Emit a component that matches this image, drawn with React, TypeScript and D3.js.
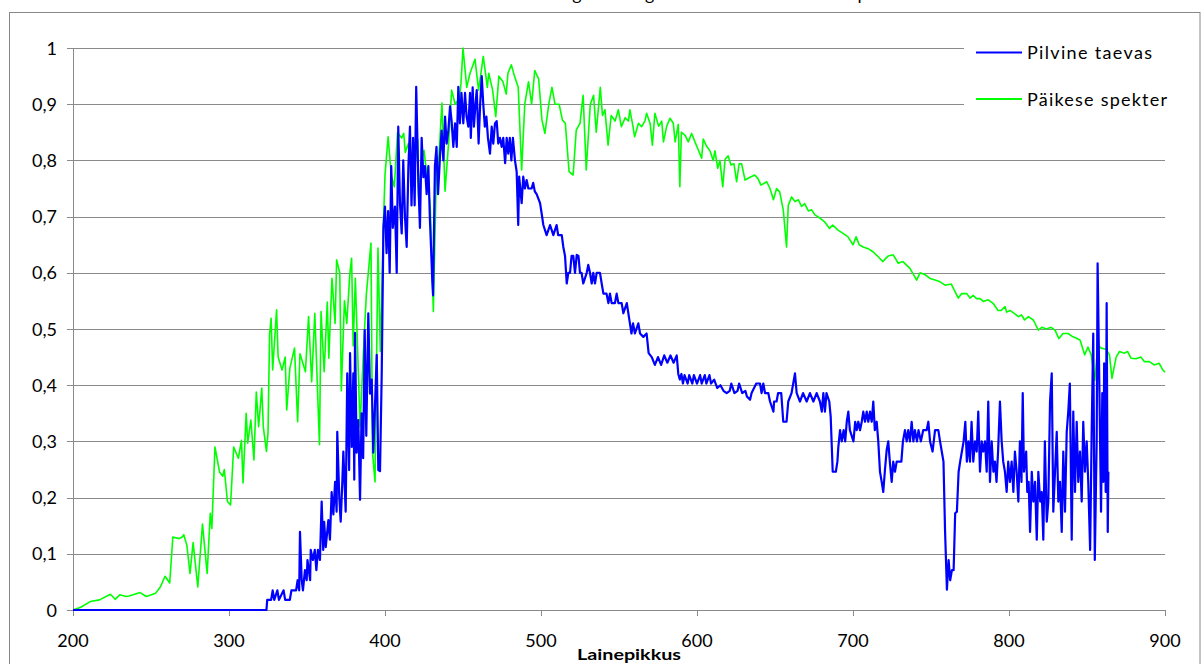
import React, { useLayoutEffect, useRef } from "react";
import * as d3 from "d3";

const W = 1202;
const H = 664;

const titleText = "Pilvise taeva valguse ilmaga võrreldes meie Päikese spekter";
const xAxisTitle = "Lainepikkus";
const seriesNames = ["Pilvine taevas", "Päikese spekter"];
const seriesColors = ["#0000ff", "#00ff00"];
const xTicks = [200, 300, 400, 500, 600, 700, 800, 900];
const yTicks = [0, 0.1, 0.2, 0.3, 0.4, 0.5, 0.6, 0.7, 0.8, 0.9, 1];
const yTickLabels = ["0", "0,1", "0,2", "0,3", "0,4", "0,5", "0,6", "0,7", "0,8", "0,9", "1"];

// Päikese spekter: [wavelength nm, relative value]
const sunSpectrum: [number, number][] = [
  [200, 0], [205, 0.005], [211, 0.015], [217, 0.018], [224, 0.028], [227, 0.019], [230, 0.027],
  [234, 0.024], [236, 0.025], [243, 0.031], [247, 0.024], [253, 0.03], [256, 0.041], [259, 0.06],
  [262, 0.048], [264, 0.13], [268, 0.127], [270, 0.13], [271, 0.134], [273, 0.115], [275, 0.065],
  [277, 0.12], [280, 0.041], [283, 0.153], [286, 0.065], [288, 0.172], [289, 0.145], [291, 0.29],
  [294, 0.245], [296, 0.238], [297, 0.25], [299, 0.193], [301, 0.187], [303, 0.29], [306, 0.27],
  [308, 0.302], [309, 0.226], [311, 0.35], [312, 0.297], [314, 0.338], [316, 0.267], [317.5, 0.388],
  [319, 0.326], [321, 0.395], [322, 0.326], [324, 0.282], [325, 0.315], [326, 0.489], [327, 0.519],
  [328, 0.427], [330.5, 0.534], [331.5, 0.45], [334, 0.427], [336, 0.45], [337, 0.356], [339, 0.43],
  [342, 0.466], [344, 0.335], [345.5, 0.456], [349, 0.424], [351, 0.522], [353, 0.406], [355, 0.528],
  [358, 0.294], [359, 0.531], [361, 0.424], [363, 0.548], [364, 0.448], [366, 0.59], [368, 0.51],
  [369, 0.623], [371, 0.6], [372, 0.39], [374, 0.55], [375.5, 0.51], [377.5, 0.6], [378.6, 0.626],
  [379.6, 0.47], [381, 0.59], [384, 0.326], [386, 0.45], [388, 0.56], [391, 0.653], [392, 0.28],
  [393.6, 0.228], [395.5, 0.644], [397, 0.46], [399, 0.689], [400, 0.774], [402, 0.842], [404, 0.774],
  [406, 0.753], [408, 0.849], [410.7, 0.84], [412, 0.848], [413, 0.814], [415, 0.83], [418, 0.765],
  [421, 0.836], [421.5, 0.735], [423.5, 0.8], [425, 0.818], [427, 0.77], [429, 0.718], [431, 0.531],
  [433, 0.79], [434, 0.78], [436.5, 0.902], [438.5, 0.745], [441, 0.84], [442.7, 0.925], [445, 0.9],
  [447.6, 0.91], [448.7, 0.937], [450, 1.0], [452.4, 0.93], [454.5, 0.955], [457.7, 0.98], [460, 0.925],
  [463, 0.985], [465.6, 0.93], [466.5, 0.955], [469, 0.925], [471, 0.878], [473, 0.95], [475.6, 0.94],
  [477.7, 0.918], [478.8, 0.955], [481, 0.97], [483, 0.95], [485.4, 0.93], [487.6, 0.783], [489.6, 0.9],
  [492, 0.94], [494, 0.9], [496, 0.96], [498.5, 0.945], [500.6, 0.872], [502.5, 0.848], [505, 0.9],
  [507, 0.93], [509, 0.9], [511.6, 0.9], [513.7, 0.872], [515.6, 0.866], [518, 0.78], [520.6, 0.774],
  [522.6, 0.854], [525, 0.866], [527, 0.916], [529, 0.783], [531.6, 0.9], [533.7, 0.916], [535.4, 0.85],
  [538, 0.93], [539.4, 0.88], [541, 0.89], [543, 0.827], [545, 0.88], [547.5, 0.87], [549.6, 0.89],
  [551.5, 0.86], [554, 0.876], [556, 0.87], [557, 0.89], [559, 0.86], [560, 0.842], [562.5, 0.866],
  [564.5, 0.86], [566.6, 0.87], [567.7, 0.884], [570, 0.865], [571.4, 0.827], [573, 0.884],
  [575.4, 0.861], [577.4, 0.87], [578.5, 0.833], [580.6, 0.861], [582.7, 0.875], [584.8, 0.866],
  [586, 0.833], [588, 0.864], [589, 0.753], [590, 0.85], [592.3, 0.845], [594.4, 0.833], [596.6, 0.848],
  [598.7, 0.833], [600.8, 0.819], [603, 0.804], [604, 0.838], [606, 0.826], [608.3, 0.817], [610.4, 0.8],
  [611.5, 0.817], [613.3, 0.786], [614.7, 0.8], [616.5, 0.753], [618, 0.802], [620, 0.808],
  [621.8, 0.792], [623.7, 0.794], [625.4, 0.762], [627, 0.794], [628.6, 0.794], [630.8, 0.765],
  [634, 0.77], [637, 0.774], [639, 0.768], [641, 0.756], [644.7, 0.762], [646.8, 0.75], [649, 0.73],
  [651, 0.75], [653, 0.744], [655.3, 0.712], [657.4, 0.646], [658.5, 0.72], [660.6, 0.735],
  [662.8, 0.727], [665, 0.73], [667, 0.718], [669, 0.723], [671.4, 0.71], [673.5, 0.712], [675.6, 0.703],
  [679, 0.697], [682, 0.69], [685, 0.679], [687, 0.685], [690.4, 0.676], [693.6, 0.67], [696.8, 0.664],
  [700, 0.65], [702, 0.664], [704, 0.65], [706.5, 0.646], [709.7, 0.643], [713, 0.637], [716, 0.629],
  [719, 0.62], [722.6, 0.63], [725.8, 0.632], [729, 0.617], [732, 0.62], [736.5, 0.608], [740.8, 0.587],
  [743, 0.6], [746, 0.597], [749.4, 0.59], [752.6, 0.587], [755.8, 0.584], [759, 0.578], [763, 0.58],
  [767.5, 0.555], [769.7, 0.563], [773, 0.563], [775, 0.555], [777, 0.56], [779.2, 0.554],
  [781.4, 0.554], [783.5, 0.549], [786.7, 0.552], [790, 0.545], [793, 0.533], [795, 0.533],
  [797.4, 0.54], [798.5, 0.53], [800.6, 0.533], [803.8, 0.527], [806, 0.522], [808, 0.525], [810, 0.516],
  [812.4, 0.522], [815.6, 0.516], [818.8, 0.498], [821, 0.503], [824, 0.5], [827, 0.503], [829.5, 0.498],
  [832, 0.483], [834.6, 0.492], [837.8, 0.492], [841, 0.486], [843, 0.484], [845.6, 0.48],
  [848.5, 0.454], [850.6, 0.468], [852.7, 0.454], [855, 0.409], [857, 0.472], [859, 0.466],
  [862.3, 0.464], [864.4, 0.454], [866, 0.412], [868.7, 0.45], [870.8, 0.46], [874, 0.457], [876, 0.46],
  [878.2, 0.448], [881.4, 0.447], [884.6, 0.45], [886.7, 0.442], [890, 0.442], [893, 0.436],
  [896.3, 0.439], [898.4, 0.428], [900, 0.423],
];

// Pilvine taevas: [wavelength nm, relative value]
const cloudySky: [number, number][] = [
  [200, 0], [324, 0], [324.5, 0.018], [327, 0.018], [328, 0.035], [329, 0.018], [331, 0.035],
  [332, 0.018], [335, 0.035], [336, 0.018], [339, 0.018], [340, 0.035], [343, 0.035], [344, 0.053],
  [345, 0.035], [345.5, 0.139], [346.6, 0.053], [347.4, 0.035], [348.7, 0.071], [349.8, 0.053],
  [350.3, 0.089], [352, 0.053], [352.4, 0.107], [353.8, 0.089], [355, 0.107], [356, 0.071],
  [357, 0.107], [358.3, 0.089], [359.4, 0.193], [360.4, 0.107], [361, 0.157], [362, 0.112],
  [363.7, 0.16], [364.7, 0.125], [365.8, 0.21], [366.9, 0.17], [368, 0.228], [369, 0.175],
  [369.4, 0.317], [370.7, 0.2], [371.6, 0.157], [372.6, 0.225], [373.3, 0.282], [374.8, 0.175],
  [375.8, 0.421], [377, 0.249], [377.6, 0.457], [378.7, 0.29], [379.7, 0.421], [380.3, 0.232],
  [380.8, 0.493], [381.8, 0.28], [382.9, 0.338], [384, 0.196], [385, 0.35], [386, 0.27], [387, 0.498],
  [388, 0.31], [389.3, 0.528], [390.4, 0.385], [391.5, 0.41], [392.5, 0.28], [393.6, 0.365],
  [394.7, 0.454], [395.7, 0.249], [396.8, 0.247], [397.9, 0.421], [399, 0.682], [400, 0.718],
  [401, 0.635], [402, 0.71], [403, 0.6], [404, 0.79], [405, 0.68], [406.4, 0.718], [407.5, 0.6],
  [408.5, 0.86], [409.6, 0.724], [410.7, 0.67], [411.7, 0.8], [412.8, 0.7], [413.9, 0.646], [415, 0.79],
  [416, 0.86], [417, 0.72], [418, 0.84], [419, 0.72], [420, 0.931], [421.4, 0.76], [422.4, 0.68],
  [423.5, 0.84], [424.6, 0.77], [425.6, 0.79], [426.7, 0.74], [427.8, 0.79], [428.8, 0.694],
  [429.5, 0.646], [430.3, 0.587], [430.8, 0.56], [432, 0.79], [433, 0.824], [434, 0.74], [435.3, 0.81],
  [436.3, 0.853], [437.4, 0.8], [438.5, 0.878], [439.5, 0.83], [440.6, 0.853], [441.7, 0.896],
  [442.7, 0.87], [443.8, 0.824], [444.9, 0.866], [446, 0.824], [447, 0.931], [448, 0.866], [449, 0.92],
  [450.2, 0.866], [451.3, 0.92], [452.3, 0.878], [453.4, 0.86], [454.5, 0.92], [455, 0.84],
  [456.2, 0.93], [457, 0.86], [458, 0.9], [458.8, 0.925], [460, 0.83], [461, 0.9], [462, 0.95],
  [463, 0.9], [464, 0.86], [465, 0.878], [466, 0.84], [467.3, 0.812], [468.4, 0.86], [469.4, 0.83],
  [470.5, 0.866], [471.6, 0.87], [472.6, 0.83], [473.7, 0.84], [474.8, 0.824], [475.8, 0.84],
  [477, 0.795], [478, 0.84], [479, 0.812], [480, 0.84], [481, 0.8], [482, 0.84], [483.3, 0.8],
  [484.4, 0.78], [485.4, 0.685], [486, 0.771], [487.6, 0.724], [488.6, 0.771], [489.7, 0.75],
  [490.8, 0.765], [491.9, 0.75], [494, 0.75], [495, 0.76], [496, 0.745], [497.2, 0.74], [499.4, 0.724],
  [500.4, 0.706], [501.5, 0.685], [503.6, 0.667], [505.8, 0.685], [507.9, 0.667], [510, 0.685],
  [511, 0.667], [513.3, 0.667], [514.3, 0.646], [515.4, 0.63], [516.5, 0.581], [517.5, 0.6],
  [518.6, 0.6], [519.6, 0.63], [520.7, 0.63], [521.8, 0.6], [522.9, 0.632], [524, 0.63], [525, 0.6],
  [526, 0.6], [527.1, 0.581], [529.3, 0.6], [530.3, 0.614], [531.4, 0.6], [532.5, 0.581], [533.5, 0.6],
  [534.6, 0.581], [535.7, 0.6], [537.8, 0.6], [538.9, 0.581], [540, 0.563], [542, 0.563],
  [543.2, 0.546], [544.2, 0.563], [545.3, 0.546], [547.4, 0.546], [548.5, 0.563], [549.6, 0.546],
  [551.7, 0.546], [552.8, 0.528], [555, 0.546], [556, 0.528], [557, 0.51], [558, 0.492], [559, 0.51],
  [560.2, 0.492], [562.4, 0.51], [563.5, 0.492], [565.6, 0.486], [567.7, 0.492], [569, 0.457],
  [571, 0.45], [573, 0.436], [575, 0.45], [577, 0.436], [579, 0.453], [581, 0.44], [583, 0.453],
  [585, 0.44], [587, 0.453], [588, 0.42], [589, 0.41], [590, 0.42], [591, 0.403], [592, 0.418],
  [594, 0.403], [595, 0.418], [597, 0.403], [598, 0.418], [600, 0.403], [602, 0.418], [603, 0.403],
  [605, 0.418], [606, 0.403], [608, 0.418], [609, 0.403], [611, 0.41], [613, 0.395], [615, 0.4],
  [617, 0.39], [619, 0.386], [621, 0.39], [622, 0.403], [624, 0.386], [626, 0.39], [627, 0.403],
  [629, 0.386], [631, 0.39], [632, 0.38], [634, 0.374], [635, 0.386], [638, 0.403], [640.4, 0.403],
  [641.4, 0.386], [642.5, 0.403], [643.6, 0.386], [645.7, 0.386], [646.8, 0.371], [649, 0.353],
  [649.4, 0.371], [651, 0.371], [652, 0.386], [654, 0.386], [655.3, 0.335], [657.4, 0.335],
  [658.5, 0.371], [660.6, 0.386], [662.8, 0.421], [663.9, 0.386], [666, 0.371], [668, 0.386],
  [670.3, 0.371], [672.4, 0.386], [674.6, 0.371], [676.7, 0.386], [678.8, 0.371], [680, 0.353],
  [681, 0.386], [682, 0.353], [683, 0.386], [684.8, 0.371], [685.7, 0.344], [687, 0.246], [689, 0.246],
  [690, 0.264], [690.6, 0.29], [691.7, 0.32], [692.8, 0.3], [694, 0.32], [695, 0.3], [696, 0.335],
  [697, 0.353], [698, 0.32], [700.3, 0.3], [701.4, 0.335], [702.4, 0.32], [703.4, 0.335], [704.5, 0.32],
  [705.6, 0.335], [706.6, 0.353], [707.7, 0.335], [708.8, 0.353], [709.8, 0.335], [710.9, 0.353],
  [712, 0.335], [713, 0.371], [714, 0.32], [715.2, 0.335], [716.2, 0.3], [717.3, 0.246], [718.4, 0.228],
  [719.4, 0.21], [720.5, 0.25], [721.6, 0.285], [722.6, 0.3], [723.7, 0.261], [724.8, 0.228],
  [725.8, 0.264], [726.9, 0.246], [728, 0.264], [731, 0.264], [732, 0.3], [733.3, 0.32], [734.4, 0.3],
  [735.4, 0.32], [736.5, 0.3], [737.6, 0.335], [738.7, 0.3], [739.7, 0.32], [741, 0.3], [742, 0.32],
  [743.5, 0.3], [745, 0.32], [747.2, 0.32], [748.3, 0.335], [749.4, 0.3], [751, 0.282], [752.6, 0.32],
  [754.7, 0.32], [755.8, 0.3], [756.9, 0.282], [758, 0.264], [759, 0.142], [760.2, 0.036],
  [761.3, 0.089], [762.3, 0.053], [763.4, 0.071], [764.5, 0.071], [765.5, 0.172], [766.6, 0.175],
  [767.7, 0.246], [768.7, 0.264], [769.8, 0.282], [770.9, 0.3], [772, 0.335], [773, 0.264], [774, 0.3],
  [775, 0.264], [776, 0.335], [777.1, 0.264], [778.2, 0.3], [779.3, 0.282], [780.3, 0.353],
  [781.4, 0.246], [782.5, 0.3], [783.5, 0.282], [784.6, 0.3], [785.7, 0.246], [786.7, 0.371],
  [787.8, 0.228], [788.9, 0.3], [790, 0.246], [791, 0.264], [792, 0.228], [793, 0.282], [794.2, 0.371],
  [795.3, 0.3], [796.3, 0.264], [797.4, 0.246], [798.5, 0.21], [799.5, 0.264], [800.6, 0.228],
  [801.7, 0.264], [802.8, 0.21], [803.8, 0.282], [804.9, 0.246], [806, 0.193], [807, 0.3], [808, 0.228],
  [808.8, 0.386], [809.6, 0.246], [811, 0.282], [811.7, 0.21], [812.6, 0.228], [813.5, 0.139],
  [814.6, 0.246], [815.6, 0.193], [816.7, 0.228], [817.8, 0.125], [818.8, 0.246], [820, 0.193],
  [821, 0.21], [822, 0.125], [823, 0.3], [824.2, 0.157], [825.2, 0.193], [826.3, 0.371], [827.4, 0.421],
  [828.4, 0.175], [829.5, 0.246], [830.6, 0.317], [831.6, 0.193], [832.7, 0.228], [833.8, 0.139],
  [834.8, 0.282], [835.9, 0.175], [837, 0.317], [838, 0.353], [839, 0.403], [840.2, 0.125],
  [841.2, 0.353], [842.3, 0.21], [843.4, 0.335], [844.4, 0.228], [845.5, 0.282], [846.6, 0.193],
  [847.6, 0.335], [848.7, 0.246], [849.8, 0.3], [850.8, 0.228], [852, 0.107], [853, 0.317],
  [854, 0.492], [855, 0.089], [856.2, 0.3], [856.8, 0.617], [857.9, 0.403], [859, 0.175],
  [859.8, 0.386], [860.5, 0.228], [861, 0.439], [862, 0.21], [862.6, 0.546], [863.3, 0.139],
  [863.7, 0.246],
];

export default function App() {
  const titleRef = useRef<SVGTextElement>(null);

  const margin = { left: 73, right: 1165, top: 48, bottom: 610 };
  const x = d3.scaleLinear().domain([200, 900]).range([margin.left, margin.right]);
  const y = d3.scaleLinear().domain([0, 1]).range([margin.bottom, margin.top]);
  const line = d3
    .line<[number, number]>()
    .x((d) => x(d[0]))
    .y((d) => y(d[1]));

  useLayoutEffect(() => {
    const t = titleRef.current;
    if (!t) return;
    const i1 = titleText.indexOf("g");
    const i2 = titleText.indexOf("g", i1 + 1);
    const i3 = titleText.lastIndexOf("p");
    const c = (i: number) => {
      const e = t.getExtentOfChar(i);
      return e.x + e.width / 2;
    };
    const A1 = c(i1), A2 = c(i2), A3 = c(i3);
    const a = A2 - A1, b = i2 - i1, cc = A3 - A2, dd = i3 - i2;
    const det = a * dd - b * cc;
    let k = 73 / a, ls = 0;
    if (Math.abs(det) > 1e-6) {
      const k2 = (73 * dd - b * 228) / det;
      const ls2 = (a * 228 - cc * 73) / det;
      if (k2 > 0.5 && k2 < 2 && Math.abs(ls2) < 4) {
        k = k2;
        ls = ls2;
      }
    }
    t.setAttribute("font-size", String(20 * k));
    t.setAttribute("letter-spacing", String(ls));
    t.setAttribute("x", String(577 - k * A1 - ls * i1));
  }, []);

  const font = "Lato, 'Open Sans', sans-serif";
  const gridColor = "#8a8a8a";

  return (
    <svg
      width={W}
      height={H}
      style={{ position: "absolute", left: 0, top: 0, display: "block" }}
      fontFamily={font}
    >
      <rect x={0} y={0} width={W} height={H} fill="#ffffff" />
      <text ref={titleRef} x={0} y={-0.5} fontSize={20} fill="#000">
        {titleText}
      </text>
      <rect x={9.5} y={12.5} width={1190.5} height={700} fill="#ffffff" stroke="#888888" strokeWidth={1} />

      {/* gridlines */}
      <g shapeRendering="crispEdges">
        {yTicks.map((t) => (
          <line
            key={"g" + t}
            x1={x(200)}
            x2={x(900)}
            y1={Math.round(y(t)) + 0.5}
            y2={Math.round(y(t)) + 0.5}
            stroke={gridColor}
            strokeWidth={1}
          />
        ))}
        {yTicks.map((t) => (
          <line
            key={"yt" + t}
            x1={x(200) - 6}
            x2={x(200)}
            y1={Math.round(y(t)) + 0.5}
            y2={Math.round(y(t)) + 0.5}
            stroke={gridColor}
          />
        ))}
        <line x1={x(200) + 0.5} x2={x(200) + 0.5} y1={y(1)} y2={y(0)} stroke={gridColor} />
        {xTicks.map((t) => (
          <line
            key={"xt" + t}
            x1={Math.round(x(t)) + 0.5}
            x2={Math.round(x(t)) + 0.5}
            y1={y(0)}
            y2={y(0) + 6}
            stroke={gridColor}
          />
        ))}
      </g>

      {/* y labels */}
      {yTicks.map((t, i) => (
        <text key={"yl" + t} x={57} y={y(t) + 6.5} fontSize={18} textAnchor="end" fill="#000">
          {yTickLabels[i]}
        </text>
      ))}
      {/* x labels */}
      {xTicks.map((t) => (
        <text key={"xl" + t} x={x(t)} y={647} fontSize={18} textAnchor="middle" fill="#000">
          {t}
        </text>
      ))}
      <text x={577} y={660} fontSize={15} fontWeight="bold" textLength={104} lengthAdjust="spacingAndGlyphs" fill="#000">
        {xAxisTitle}
      </text>

      {/* series */}
      <path d={line(sunSpectrum) || ""} fill="none" stroke={seriesColors[1]} strokeWidth={1.6} strokeLinejoin="round" />
      <path d={line(cloudySky) || ""} fill="none" stroke={seriesColors[0]} strokeWidth={2.2} strokeLinejoin="round" />

      {/* legend */}
      <rect x={964} y={28} width={234} height={98} fill="#ffffff" />
      {seriesNames.map((n, i) => {
        const ly = i === 0 ? 52.5 : 99;
        return (
          <g key={n}>
            <line x1={976} x2={1022} y1={ly} y2={ly} stroke={seriesColors[i]} strokeWidth={2} />
            <text
              x={1027}
              y={ly + 6.8}
              fontSize={18}
              fill="#000"
              textLength={i === 0 ? 125 : 140}
              lengthAdjust="spacing"
            >
              {n}
            </text>
          </g>
        );
      })}
    </svg>
  );
}
